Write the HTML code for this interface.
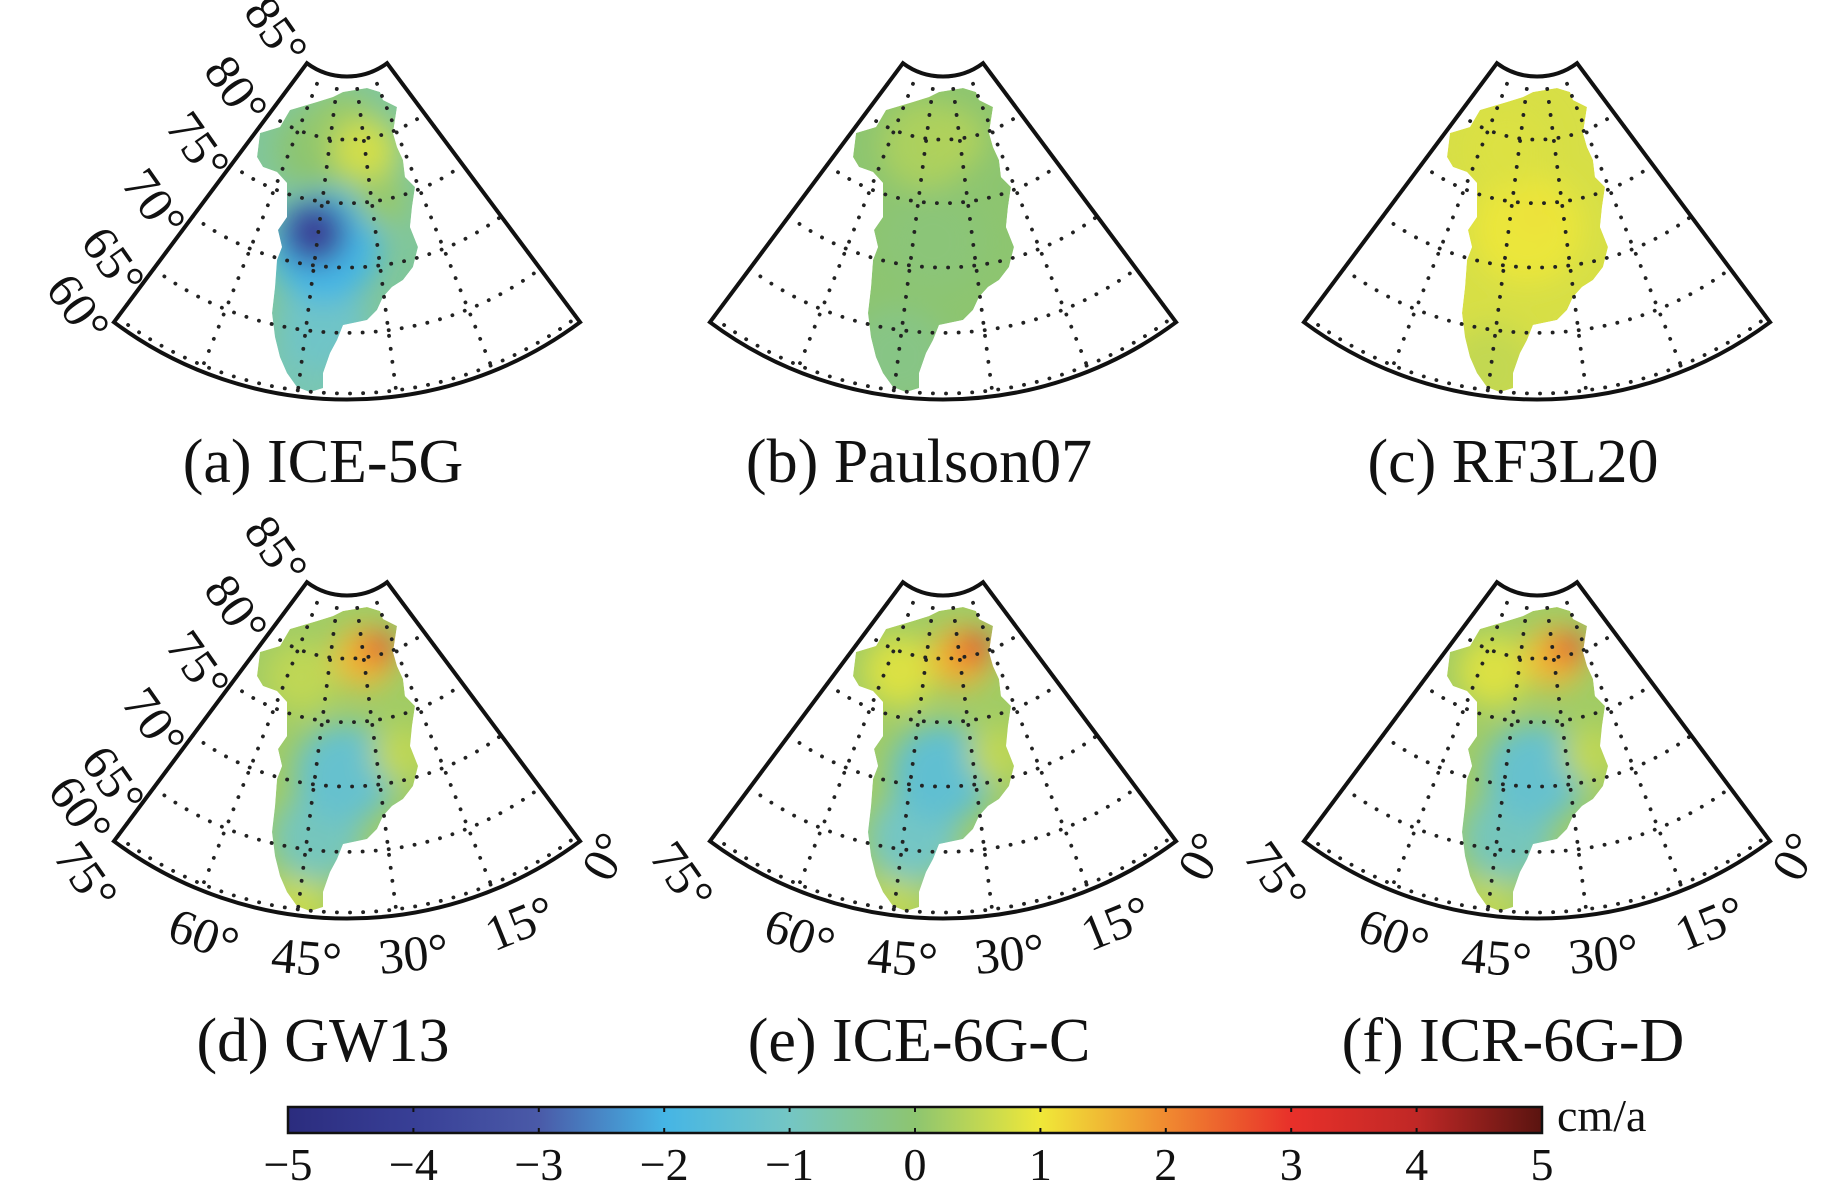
<!DOCTYPE html>
<html><head><meta charset="utf-8">
<style>
html,body{margin:0;padding:0;background:#fff;}
svg{display:block;}
text{font-family:"Liberation Serif",serif;fill:#111;}
</style></head>
<body>
<svg id="fig" xmlns="http://www.w3.org/2000/svg" width="1843" height="1184" viewBox="0 0 1843 1184">
<defs>
<filter id="blur" x="-50%" y="-50%" width="200%" height="200%"><feGaussianBlur stdDeviation="14"/></filter>
<linearGradient id="cbar-grad" x1="0" x2="1" y1="0" y2="0"></linearGradient>
<clipPath id="gl-clip"><path id="gl-path" d="M343,92 L367,88 L380,92 L383,100 L397,107 L395,120 L393,133 L397,147 L403,160 L405,177 L415,187 L412,207 L410,227 L418,247 L413,267 L403,280 L392,287 L383,297 L377,310 L367,320 L343,325 L337,340 L330,353 L323,373 L323,388 L310,392 L297,387 L287,373 L280,357 L275,337 L272,313 L275,287 L277,260 L282,247 L278,230 L287,217 L287,183 L277,172 L263,167 L257,157 L260,133 L280,127 L290,110 L317,102 L333,97 Z"/></clipPath>
</defs>
</svg>
<script>
// ---- data ----
const panelTitles = ["(a) ICE-5G","(b) Paulson07","(c) RF3L20","(d) GW13","(e) ICE-6G-C","(f) ICR-6G-D"];
const baseValues = [-0.5, 0.0, 0.75, 0.2, 0.2, 0.2];
// blobs: [lon, lat, value (cm/a), radius px]
const blobsA = [[-45,61,-0.8,45],[-42,65.5,-1.1,45],[-43,71.5,-2.0,55],[-46,72.5,-3.9,32],[-50,79,0.0,40],[-40,81,0.1,35],[-30,79,0.7,32],[-27,75,0.1,25]];
const blobsB = [[-45,63,-0.25,50],[-40,72,-0.1,50],[-45,79.5,0.3,45],[-32,80,0.35,30]];
const blobsC = [[-45,62,0.55,45],[-40,73,0.95,55],[-38,74,1.2,10],[-50,79,0.8,40]];
const blobsD = [[-45,61,0.6,28],[-43,66,-0.9,45],[-38,71,-1.3,50],[-55,78,0.5,35],[-24,72,0.5,28],[-30,80,1.5,30],[-23,80.5,2.8,16]];
const blobsE = [[-45,61,0.5,28],[-43,66,-1.0,45],[-38,71,-1.4,50],[-55,78.5,0.8,35],[-24,72,0.5,28],[-30,80,1.6,30],[-23,80.5,3.0,16]];
const blobsF = [[-45,61,0.5,28],[-43,66,-0.9,45],[-38,71,-1.3,50],[-55,78.5,0.8,35],[-24,72,0.5,28],[-30,80,1.5,30],[-23,80.5,2.8,16]];
const cbarTicks = [-5,-4,-3,-2,-1,0,1,2,3,4,5];
const cbarColors = ["#2b2c7e","#383f96","#4a5aa8","#45b5e5","#74c6c4","#8dc570","#f0e838","#f08a30","#e8302a","#c02826","#5a1410"];
const latLines = [60,65,70,75,80,85];
const lonLines = [-75,-60,-45,-30,-15,0];
const latLabels = ["60°","65°","70°","75°","80°","85°"];
const lonLabels = ["75°","60°","45°","30°","15°","0°"];

const NS="http://www.w3.org/2000/svg";
const svg=document.getElementById('fig');
function mk(tag,attrs,parent){const e=document.createElementNS(NS,tag);for(const k in attrs)e.setAttribute(k,attrs[k]);(parent||svg).appendChild(e);return e;}

function colorOf(v){
  v=Math.max(-5,Math.min(5,v));const f=v+5;const i=Math.min(9,Math.floor(f));const t=f-i;
  const a=cbarColors[i],b=cbarColors[i+1];
  const p=s=>[1,3,5].map(k=>parseInt(s.substr(k,2),16));
  const A=p(a),B=p(b);return "rgb("+A.map((c,j)=>Math.round(c+(B[j]-c)*t)).join(",")+")";
}
const PX=347,PY=9.5,HALF=36.7;
function rad(lat){const t=Math.tan((90-lat)/2*Math.PI/180);return 67+(t-0.04366)/(0.26795-0.04366)*323;}
function proj(lon,lat){const th=(lon+37.5)*(HALF/37.5)*Math.PI/180;const r=rad(lat);return [PX+r*Math.sin(th),PY+r*Math.cos(th)];}

const offsets=[[0,0],[596,0],[1190,0],[0,519],[596,519],[1190,519]];
const allBlobs=[blobsA,blobsB,blobsC,blobsD,blobsE,blobsF];
const names=["ice-5g","paulson07","rf3l20","gw13","ice-6g-c","icr-6g-d"];

offsets.forEach((o,pi)=>{
  const g=mk('g',{transform:`translate(${o[0]},${o[1]})`});
  
  
  const land=mk('g',{'clip-path':'url(#gl-clip)'},g);
  
  
  mk('path',{d:document.getElementById('gl-path').getAttribute('d'),fill:colorOf(baseValues[pi])},land);
  const bl=mk('g',{filter:'url(#blur)'},land);
  allBlobs[pi].forEach(b=>{const p=proj(b[0],b[1]);
    const c=mk('circle',{cx:p[0],cy:p[1],r:b[3],fill:colorOf(b[2])},bl);
    
    });
  const grid=mk('g',{fill:'none',stroke:'#222','stroke-width':3.8,'stroke-linecap':'round','stroke-dasharray':'0.1 13'},g);
  
  
  latLines.slice(0,5).forEach(lat=>{const r=rad(lat)-(lat===60?6:0);
    const th=HALF*Math.PI/180;
    const L=[PX-r*Math.sin(th),PY+r*Math.cos(th)],R=[PX+r*Math.sin(th),PY+r*Math.cos(th)];
    mk('path',{d:`M${L[0]},${L[1]} A${r},${r} 0 0 0 ${R[0]},${R[1]}`},grid);});
  lonLines.forEach(lon=>{const A=proj(lon,85),B=proj(lon,60);mk('path',{d:`M${A[0]},${A[1]} L${B[0]},${B[1]}`},grid);});
  const tl=proj(-75,85),tr=proj(0,85),bL=proj(-75,60),bR=proj(0,60),r60=rad(60),r85=rad(85);
  const bd=mk('path',{d:`M${tl[0]},${tl[1]} L${bL[0]},${bL[1]} A${r60},${r60} 0 0 0 ${bR[0]},${bR[1]} L${tr[0]},${tr[1]} A${r85},${r85} 0 0 1 ${tl[0]},${tl[1]} Z`,fill:'none',stroke:'#111','stroke-width':4,'stroke-linejoin':'miter'},g);
  
  
  if(pi===0||pi===3){
    const pos=[[74,311],[109,264],[150,206],[194,149],[232,93],[272,34]];
    latLabels.forEach((s,i)=>{
      let p=pos[i]; if(pi===3&&i===0)p=[76,294];
      const t=mk('text',{x:p[0],y:p[1],'font-size':50,'text-anchor':'middle','dominant-baseline':'middle',transform:`rotate(55 ${p[0]} ${p[1]})`},g);
      t.textContent=s;
      
      });
  }
  if(pi>=3){
    const lp=[[82,360,55],[202,421,20],[306,444,5],[414,440,-6],[522,409,-22],[610,340,-62]];
    lonLabels.forEach((s,i)=>{
      const p=lp[i];
      const t=mk('text',{x:p[0],y:p[1],'font-size':50,'text-anchor':'middle','dominant-baseline':'middle',transform:`rotate(${p[2]} ${p[0]} ${p[1]})`},g);
      t.textContent=s;
      
      });
  }
  const tt=mk('text',{x:323,y:(pi>=3?542:482),'font-size':62,'text-anchor':'middle'},g);
  tt.textContent=panelTitles[pi];
  
  
});

const grad=document.getElementById('cbar-grad');
cbarColors.forEach((c,i)=>mk('stop',{offset:(i/10),'stop-color':c},grad));
const X0=288,X1=1542,Y0=1107,Y1=1133;
const cx=v=>X0+(v+5)/10*(X1-X0);
const cb=mk('g',{});


mk('rect',{x:X0,y:Y0,width:X1-X0,height:Y1-Y0,fill:'url(#cbar-grad)',stroke:'#111','stroke-width':2.5},cb);
cbarTicks.forEach(v=>{
  const x=cx(v);
  if(v>-5&&v<5){mk('line',{x1:x,x2:x,y1:Y0,y2:Y0+5,stroke:'#111','stroke-width':2},cb);mk('line',{x1:x,x2:x,y1:Y1-5,y2:Y1,stroke:'#111','stroke-width':2},cb);}
  const t=mk('text',{x:x,y:1180,'font-size':46,'text-anchor':'middle'},cb);
  t.textContent=(v<0?'\u2212'+(-v):String(v));
  
  
});
const u=mk('text',{x:1557,y:1131,'font-size':46},cb);
u.textContent='cm/a';


</script>
</body></html>
